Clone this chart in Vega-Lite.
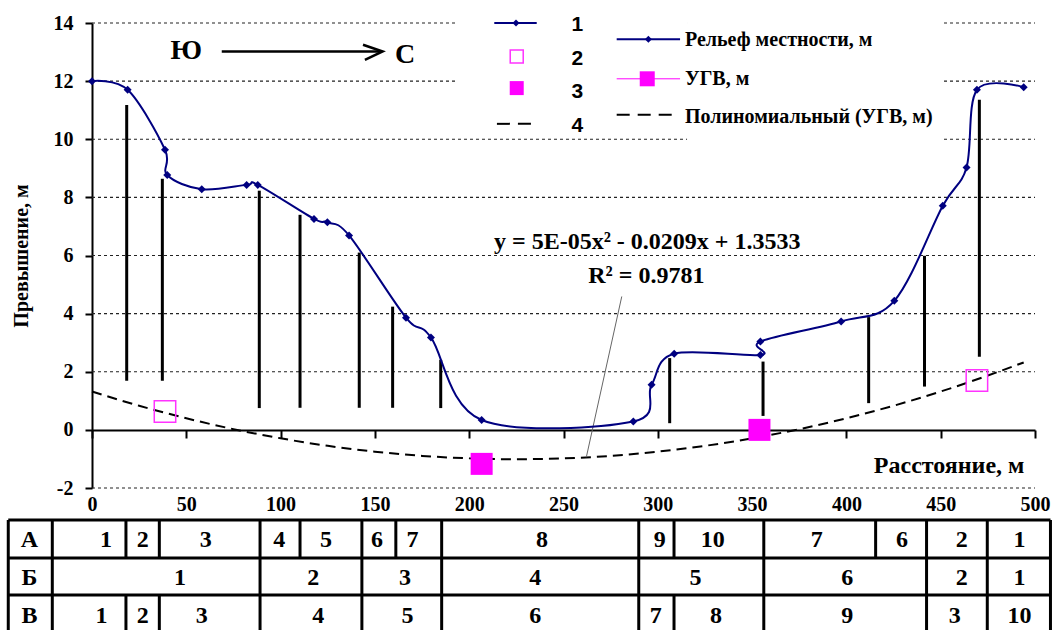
{
  "$schema": "https://vega.github.io/schema/vega-lite/v6.json",
  "width": 943,
  "height": 465,
  "autosize": {"type": "none"},
  "padding": {"left": 92, "top": 23, "right": 17, "bottom": 142},
  "background": "white",
  "config": {
    "view": {"stroke": null},
    "axis": {"labelFont": "Liberation Serif", "titleFont": "Liberation Serif", "labelFontWeight": "bold", "titleFontWeight": "bold", "labelFontSize": 20, "titleFontSize": 20, "labelColor": "black", "titleColor": "black"},
    "style": {
      "guide-label": {"font": "Liberation Serif", "fontWeight": "bold", "fontSize": 20, "fill": "black"},
      "guide-title": {"font": "Liberation Serif", "fontWeight": "bold", "fontSize": 20, "fill": "black"}
    }
  },
  "datasets": {
    "grid": [
      {"x": 0, "x2": 500, "y": -2}, {"x": 0, "x2": 500, "y": 2}, {"x": 0, "x2": 500, "y": 4},
      {"x": 0, "x2": 500, "y": 6}, {"x": 0, "x2": 500, "y": 8}, {"x": 0, "x2": 500, "y": 10},
      {"x": 0, "x2": 500, "y": 12}, {"x": 0, "x2": 500, "y": 14}
    ],
    "boxes": [
      {"x": 193.4, "x2": 315.5, "y": 14.8, "y2": 10.12},
      {"x": 315.5, "x2": 450.7, "y": 14.8, "y2": 9.64}
    ],
    "relief": [
      {"i": 1, "x": 0, "y": 12.0}, {"i": 2, "x": 18.9, "y": 11.7}, {"i": 3, "x": 38.7, "y": 9.64},
      {"i": 4, "x": 39.9, "y": 8.77}, {"i": 5, "x": 58.2, "y": 8.28}, {"i": 6, "x": 82.0, "y": 8.43},
      {"i": 7, "x": 87.9, "y": 8.43}, {"i": 8, "x": 117.7, "y": 7.26}, {"i": 9, "x": 124.8, "y": 7.14},
      {"i": 10, "x": 136.3, "y": 6.69}, {"i": 11, "x": 166.5, "y": 3.86}, {"i": 12, "x": 179.7, "y": 3.18},
      {"i": 13, "x": 206.6, "y": 0.34}, {"i": 14, "x": 287.0, "y": 0.29}, {"i": 15, "x": 296.7, "y": 1.55},
      {"i": 16, "x": 308.7, "y": 2.62}, {"i": 17, "x": 354.4, "y": 2.58}, {"i": 18, "x": 354.4, "y": 3.04},
      {"i": 19, "x": 397.2, "y": 3.73}, {"i": 20, "x": 425.4, "y": 4.44}, {"i": 21, "x": 451.1, "y": 7.71},
      {"i": 22, "x": 463.7, "y": 9.03}, {"i": 23, "x": 469.2, "y": 11.7}, {"i": 24, "x": 494.0, "y": 11.79}
    ],
    "ugvHollow": [{"x": 38.7, "y": 0.63}, {"x": 469.2, "y": 1.7}],
    "ugvFilled": [{"x": 206.6, "y": -1.17}, {"x": 353.9, "y": 0.0}],
    "wells": [
      {"x": 18.4, "y": 11.18, "y2": 1.69}, {"x": 37.3, "y": 8.64, "y2": 1.69}, {"x": 88.7, "y": 8.23, "y2": 0.75},
      {"x": 110.3, "y": 7.4, "y2": 0.76}, {"x": 141.7, "y": 6.1, "y2": 0.76}, {"x": 159.4, "y": 4.24, "y2": 0.76},
      {"x": 184.9, "y": 2.41, "y2": 0.75}, {"x": 306.3, "y": 2.47, "y2": 0.23}, {"x": 355.8, "y": 2.35, "y2": 0.48},
      {"x": 411.8, "y": 3.88, "y2": 0.92}, {"x": 441.4, "y": 5.99, "y2": 1.49}, {"x": 470.5, "y": 11.36, "y2": 2.52}
    ],
    "trend": [
      {"x": 0, "y": 1.32}, {"x": 25, "y": 0.83}, {"x": 50, "y": 0.4}, {"x": 75, "y": 0.025}, {"x": 100, "y": -0.29},
      {"x": 125, "y": -0.55}, {"x": 150, "y": -0.75}, {"x": 175, "y": -0.895}, {"x": 200, "y": -0.98}, {"x": 225, "y": -1.01},
      {"x": 250, "y": -0.98}, {"x": 275, "y": -0.895}, {"x": 300, "y": -0.75}, {"x": 325, "y": -0.55}, {"x": 350, "y": -0.29},
      {"x": 375, "y": 0.025}, {"x": 400, "y": 0.4}, {"x": 425, "y": 0.83}, {"x": 450, "y": 1.32}, {"x": 475, "y": 1.87},
      {"x": 494, "y": 2.32}
    ],
    "leader": [{"x": 280.9, "y": 4.59, "x2": 262.1, "y2": -0.94}],
    "tableH": [
      {"x": -44.4, "x2": 508.2, "y": -3.1}, {"x": -44.4, "x2": 508.2, "y": -4.41},
      {"x": -44.4, "x2": 508.2, "y": -5.68}, {"x": -44.4, "x2": 508.2, "y": -6.95}
    ],
    "tableV": [
      {"x": -44.4, "y": -3.1, "y2": -6.95}, {"x": -21.05, "y": -3.1, "y2": -6.95}, {"x": 508.2, "y": -3.1, "y2": -6.95},
      {"x": 18.0, "y": -3.1, "y2": -4.41}, {"x": 35.7, "y": -3.1, "y2": -4.41}, {"x": 89.1, "y": -3.1, "y2": -4.41},
      {"x": 110.3, "y": -3.1, "y2": -4.41}, {"x": 143.1, "y": -3.1, "y2": -4.41}, {"x": 161.1, "y": -3.1, "y2": -4.41},
      {"x": 185.4, "y": -3.1, "y2": -4.41}, {"x": 289.9, "y": -3.1, "y2": -4.41}, {"x": 308.6, "y": -3.1, "y2": -4.41},
      {"x": 356.2, "y": -3.1, "y2": -4.41}, {"x": 415.5, "y": -3.1, "y2": -4.41}, {"x": 442.5, "y": -3.1, "y2": -4.41},
      {"x": 474.7, "y": -3.1, "y2": -4.41},
      {"x": 89.1, "y": -4.41, "y2": -5.68}, {"x": 143.1, "y": -4.41, "y2": -5.68}, {"x": 185.4, "y": -4.41, "y2": -5.68},
      {"x": 289.9, "y": -4.41, "y2": -5.68}, {"x": 356.2, "y": -4.41, "y2": -5.68}, {"x": 442.5, "y": -4.41, "y2": -5.68},
      {"x": 474.7, "y": -4.41, "y2": -5.68},
      {"x": 18.0, "y": -5.68, "y2": -6.95}, {"x": 35.7, "y": -5.68, "y2": -6.95}, {"x": 89.1, "y": -5.68, "y2": -6.95},
      {"x": 143.1, "y": -5.68, "y2": -6.95}, {"x": 185.4, "y": -5.68, "y2": -6.95}, {"x": 289.9, "y": -5.68, "y2": -6.95},
      {"x": 308.6, "y": -5.68, "y2": -6.95}, {"x": 356.2, "y": -5.68, "y2": -6.95}, {"x": 442.5, "y": -5.68, "y2": -6.95},
      {"x": 474.7, "y": -5.68, "y2": -6.95}
    ],
    "tableText": [
      {"x": -33.2, "y": -3.78, "t": "А"}, {"x": -33.2, "y": -5.1, "t": "Б"}, {"x": -33.2, "y": -6.4, "t": "В"},
      {"x": 7.4, "y": -3.78, "t": "1"}, {"x": 26.9, "y": -3.78, "t": "2"}, {"x": 60.3, "y": -3.78, "t": "3"},
      {"x": 99.3, "y": -3.78, "t": "4"}, {"x": 124.1, "y": -3.78, "t": "5"}, {"x": 151.1, "y": -3.78, "t": "6"},
      {"x": 170.0, "y": -3.78, "t": "7"}, {"x": 238.6, "y": -3.78, "t": "8"}, {"x": 301.1, "y": -3.78, "t": "9"},
      {"x": 329.1, "y": -3.78, "t": "10"}, {"x": 384.3, "y": -3.78, "t": "7"}, {"x": 429.5, "y": -3.78, "t": "6"},
      {"x": 461.1, "y": -3.78, "t": "2"}, {"x": 491.8, "y": -3.78, "t": "1"},
      {"x": 46.7, "y": -5.1, "t": "1"}, {"x": 117.3, "y": -5.1, "t": "2"}, {"x": 165.9, "y": -5.1, "t": "3"},
      {"x": 235.0, "y": -5.1, "t": "4"}, {"x": 320.0, "y": -5.1, "t": "5"}, {"x": 400.5, "y": -5.1, "t": "6"},
      {"x": 461.1, "y": -5.1, "t": "2"}, {"x": 491.8, "y": -5.1, "t": "1"},
      {"x": 5.1, "y": -6.4, "t": "1"}, {"x": 26.9, "y": -6.4, "t": "2"}, {"x": 58.2, "y": -6.4, "t": "3"},
      {"x": 120.0, "y": -6.4, "t": "4"}, {"x": 167.3, "y": -6.4, "t": "5"}, {"x": 235.0, "y": -6.4, "t": "6"},
      {"x": 298.9, "y": -6.4, "t": "7"}, {"x": 330.9, "y": -6.4, "t": "8"}, {"x": 400.5, "y": -6.4, "t": "9"},
      {"x": 457.5, "y": -6.4, "t": "3"}, {"x": 491.8, "y": -6.4, "t": "10"}
    ],
    "legNavy": [{"x": 213.3, "x2": 235.8, "y": 14.0}, {"x": 278.2, "x2": 311.8, "y": 13.44}],
    "legMagenta": [{"x": 278.2, "x2": 311.8, "y": 12.08}],
    "legDashL": [{"x": 214.7, "x2": 235.8, "y": 10.53}],
    "legDashR": [{"x": 278.2, "x2": 307.4, "y": 10.84}],
    "legDiamond": [{"x": 224.8, "y": 14.0}, {"x": 295.0, "y": 13.44}],
    "legHollow": [{"x": 225.2, "y": 12.85}],
    "legFilledL": [{"x": 225.2, "y": 11.76}],
    "legFilledR": [{"x": 294.4, "y": 12.08}],
    "legDigits": [
      {"x": 257.3, "y": 13.94, "t": "1"}, {"x": 257.3, "y": 12.77, "t": "2"},
      {"x": 257.3, "y": 11.61, "t": "3"}, {"x": 257.3, "y": 10.46, "t": "4"}
    ],
    "legWords": [
      {"x": 314.4, "y": 13.42, "t": "Рельеф местности, м"},
      {"x": 314.4, "y": 12.08, "t": "УГВ, м"},
      {"x": 314.4, "y": 10.78, "t": "Полиномиальный (УГВ, м)"}
    ],
    "dirText": [{"x": 50.0, "y": 13.02, "t": "Ю"}, {"x": 166.0, "y": 12.9, "t": "С"}],
    "eqText": [
      {"x": 294.4, "y": 6.48, "t": "y = 5E-05x² - 0.0209x + 1.3533"},
      {"x": 293.9, "y": 5.31, "t": "R² = 0.9781"}
    ],
    "xTitle": [{"x": 494.4, "y": -1.26, "t": "Расстояние, м"}],
    "arrowLine": [{"x": 68.8, "x2": 153.6, "y": 13.02}],
    "arrowHead": [{"o": 1, "x": 143.7, "y": 13.25}, {"o": 2, "x": 154.1, "y": 13.02}, {"o": 3, "x": 144.7, "y": 12.73}]
  },
  "encoding": {
    "x": {"field": "x", "type": "quantitative", "scale": {"domain": [0, 500], "nice": false, "zero": false},
          "axis": {"title": null, "values": [0, 50, 100, 150, 200, 250, 300, 350, 400, 450, 500],
                   "grid": false, "offset": -58,
                   "domainColor": "black", "domainWidth": 2, "tickColor": "black", "tickWidth": 2, "tickSize": 8,
                   "labelFont": "Liberation Serif", "labelFontWeight": "bold", "labelFontSize": 20, "labelColor": "black",
                   "labelPadding": 56, "labelFlush": false, "labelOverlap": false}},
    "y": {"field": "y", "type": "quantitative", "scale": {"domain": [-2, 14], "nice": false, "zero": false},
          "axis": {"title": "Превышение, м", "values": [-2, 0, 2, 4, 6, 8, 10, 12, 14],
                   "labelExpr": "datum.value < 0 ? '-' + abs(datum.value) : '' + datum.value",
                   "grid": false,
                   "domainColor": "black", "domainWidth": 2, "tickColor": "black", "tickWidth": 2, "tickSize": 7,
                   "labelFont": "Liberation Serif", "labelFontWeight": "bold", "labelFontSize": 20, "labelColor": "black",
                   "labelPadding": 12, "labelFlush": false,
                   "titleFont": "Liberation Serif", "titleFontWeight": "bold", "titleFontSize": 20, "titleColor": "black",
                   "titlePadding": 22}}
  },
  "layer": [
    {
      "data": {"name": "grid"},
      "mark": {"type": "rule", "color": "#222222", "strokeWidth": 1.2, "strokeDash": [3, 3]},
      "encoding": {"x2": {"field": "x2"}}
    },
    {
      "data": {"name": "wells"},
      "mark": {"type": "rule", "color": "black", "strokeWidth": 3},
      "encoding": {"y2": {"field": "y2"}}
    },
    {
      "data": {"name": "boxes"},
      "mark": {"type": "rect", "fill": "white", "stroke": null},
      "encoding": {"x2": {"field": "x2"}, "y2": {"field": "y2"}}
    },
    {
      "data": {"name": "trend"},
      "mark": {"type": "line", "color": "black", "strokeWidth": 2, "strokeDash": [10, 6], "interpolate": "monotone"},
      "encoding": {}
    },
    {
      "data": {"name": "leader"},
      "mark": {"type": "rule", "color": "#666666", "strokeWidth": 1},
      "encoding": {"x2": {"field": "x2"}, "y2": {"field": "y2"}}
    },
    {
      "data": {"name": "relief"},
      "mark": {"type": "line", "color": "#000080", "strokeWidth": 2, "interpolate": "cardinal"},
      "encoding": {"order": {"field": "i", "type": "quantitative"}}
    },
    {
      "data": {"name": "relief"},
      "mark": {"type": "point", "shape": "diamond", "filled": true, "color": "#000080", "size": 64, "opacity": 1},
      "encoding": {}
    },
    {
      "data": {"name": "ugvHollow"},
      "mark": {"type": "point", "shape": "square", "filled": false, "color": "#FF33FF", "strokeWidth": 1.5, "size": 460, "opacity": 1},
      "encoding": {}
    },
    {
      "data": {"name": "ugvFilled"},
      "mark": {"type": "point", "shape": "square", "filled": true, "color": "#FF00FF", "size": 484, "opacity": 1},
      "encoding": {}
    },
    {
      "data": {"name": "tableH"},
      "mark": {"type": "rule", "color": "black", "strokeWidth": 3},
      "encoding": {"x2": {"field": "x2"}}
    },
    {
      "data": {"name": "tableV"},
      "mark": {"type": "rule", "color": "black", "strokeWidth": 3},
      "encoding": {"y2": {"field": "y2"}}
    },
    {
      "data": {"name": "tableText"},
      "mark": {"type": "text", "font": "Liberation Serif", "fontWeight": "bold", "fontSize": 24, "color": "black", "align": "center", "baseline": "middle"},
      "encoding": {"text": {"field": "t"}}
    },
    {
      "data": {"name": "legNavy"},
      "mark": {"type": "rule", "color": "#000080", "strokeWidth": 2},
      "encoding": {"x2": {"field": "x2"}}
    },
    {
      "data": {"name": "legMagenta"},
      "mark": {"type": "rule", "color": "#FF00FF", "strokeWidth": 1},
      "encoding": {"x2": {"field": "x2"}}
    },
    {
      "data": {"name": "legDashL"},
      "mark": {"type": "rule", "color": "black", "strokeWidth": 2, "strokeDash": [13, 8]},
      "encoding": {"x2": {"field": "x2"}}
    },
    {
      "data": {"name": "legDashR"},
      "mark": {"type": "rule", "color": "black", "strokeWidth": 2, "strokeDash": [13, 8]},
      "encoding": {"x2": {"field": "x2"}}
    },
    {
      "data": {"name": "legDiamond"},
      "mark": {"type": "point", "shape": "diamond", "filled": true, "color": "#000080", "size": 49, "opacity": 1},
      "encoding": {}
    },
    {
      "data": {"name": "legHollow"},
      "mark": {"type": "point", "shape": "square", "filled": false, "color": "#FF33FF", "strokeWidth": 1.5, "size": 169, "opacity": 1},
      "encoding": {}
    },
    {
      "data": {"name": "legFilledL"},
      "mark": {"type": "point", "shape": "square", "filled": true, "color": "#FF00FF", "size": 196, "opacity": 1},
      "encoding": {}
    },
    {
      "data": {"name": "legFilledR"},
      "mark": {"type": "point", "shape": "square", "filled": true, "color": "#FF00FF", "size": 225, "opacity": 1},
      "encoding": {}
    },
    {
      "data": {"name": "legDigits"},
      "mark": {"type": "text", "font": "Liberation Sans", "fontWeight": "bold", "fontSize": 21, "color": "black", "align": "center", "baseline": "middle"},
      "encoding": {"text": {"field": "t"}}
    },
    {
      "data": {"name": "legWords"},
      "mark": {"type": "text", "font": "Liberation Serif", "fontWeight": "bold", "fontSize": 20, "color": "black", "align": "left", "baseline": "middle"},
      "encoding": {"text": {"field": "t"}}
    },
    {
      "data": {"name": "dirText"},
      "mark": {"type": "text", "font": "Liberation Serif", "fontWeight": "bold", "fontSize": 28, "color": "black", "align": "center", "baseline": "middle"},
      "encoding": {"text": {"field": "t"}}
    },
    {
      "data": {"name": "eqText"},
      "mark": {"type": "text", "font": "Liberation Serif", "fontWeight": "bold", "fontSize": 24, "color": "black", "align": "center", "baseline": "middle"},
      "encoding": {"text": {"field": "t"}}
    },
    {
      "data": {"name": "xTitle"},
      "mark": {"type": "text", "font": "Liberation Serif", "fontWeight": "bold", "fontSize": 24, "color": "black", "align": "right", "baseline": "middle"},
      "encoding": {"text": {"field": "t"}}
    },
    {
      "data": {"name": "arrowLine"},
      "mark": {"type": "rule", "color": "black", "strokeWidth": 2.5},
      "encoding": {"x2": {"field": "x2"}}
    },
    {
      "data": {"name": "arrowHead"},
      "mark": {"type": "line", "color": "black", "strokeWidth": 2.5},
      "encoding": {"order": {"field": "o", "type": "quantitative"}}
    }
  ]
}
